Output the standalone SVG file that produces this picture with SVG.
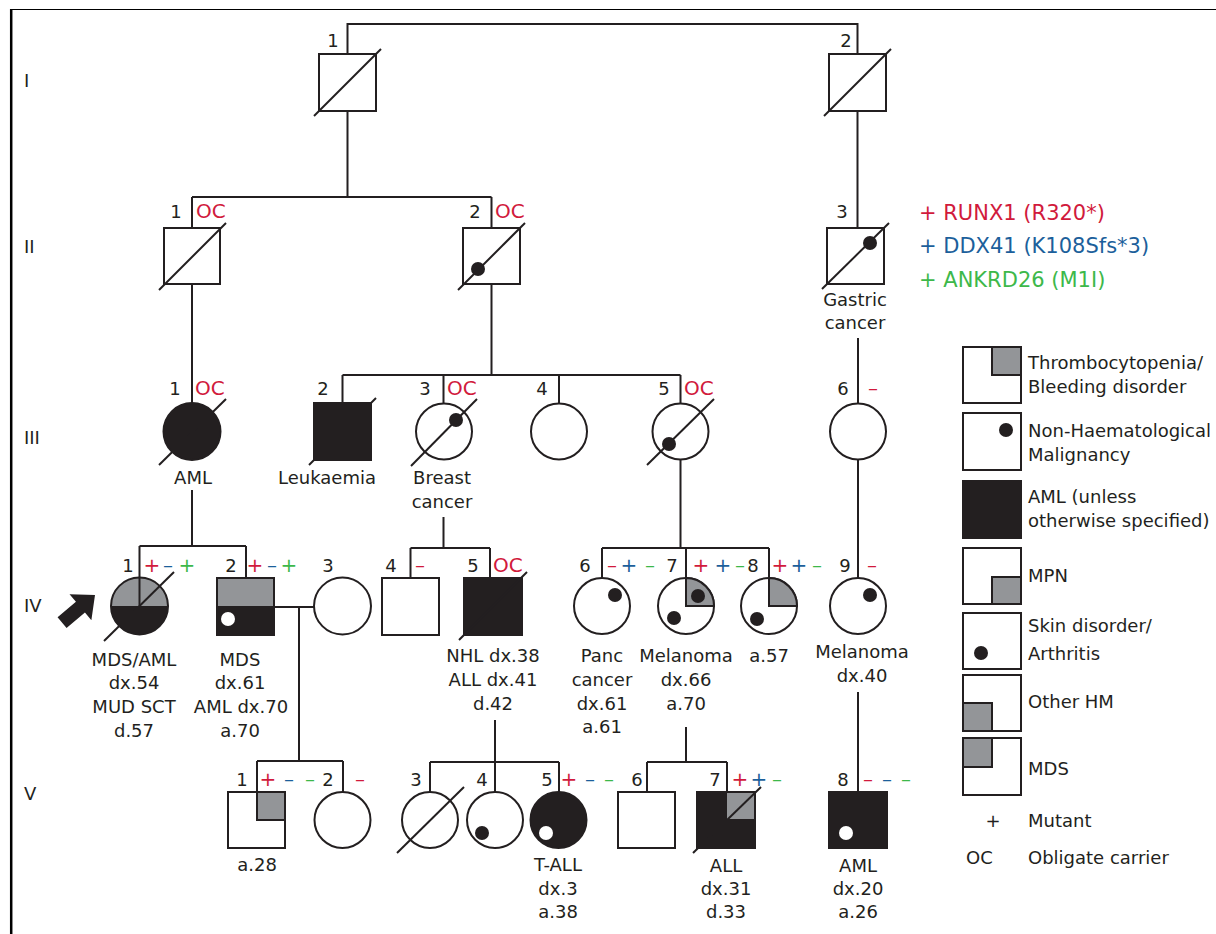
<svg xmlns="http://www.w3.org/2000/svg" width="1216" height="934" viewBox="0 0 1216 934">
<style>
text{font-family:"DejaVu Sans","Liberation Sans",sans-serif;font-size:18px;fill:#231f20}
.m{text-anchor:middle}
.red{fill:#d11a3c}.blu{fill:#1c5f9b}.grn{fill:#3db84a}
.red,.blu,.grn{font-size:20px}
.big{font-size:21px}
.ln{stroke:#231f20;stroke-width:2;fill:none}
.s{stroke:#231f20;stroke-width:2;fill:#fff}
.f{fill:#231f20;stroke:#231f20;stroke-width:2}
.gr{fill:#939598;stroke:#231f20;stroke-width:2}
.gn{fill:#939598}
.bk{fill:#231f20}
.o{fill:none;stroke:#231f20;stroke-width:2}
.sl{stroke:#231f20;stroke-width:2}
.wd{fill:#fff}
</style>
<rect width="1216" height="934" fill="#fff"/>
<g id="frame">
<line x1="10" y1="9.5" x2="1216" y2="9.5" stroke="#000" stroke-width="1.2"/>
<line x1="11.2" y1="9" x2="11.2" y2="934" stroke="#000" stroke-width="2.5"/>
</g>
<g id="generations">
<text x="24" y="87">I</text>
<text x="24" y="253">II</text>
<text x="24" y="444">III</text>
<text x="24" y="612">IV</text>
<text x="24" y="800">V</text>
</g>
<g id="connectors" class="ln">
<path d="M347.5,54V24H857.5V54"/>
<path d="M347.5,111V197M192,197H491.5M192,197V228M491.5,197V228"/>
<path d="M857.5,111V228"/>
<path d="M192,284V403"/>
<path d="M491.5,284V375M342.5,375H680.5M342.5,375V403M443.5,375V403M559,375V403M680.5,375V403"/>
<path d="M858,338V403"/>
<path d="M192,490V546M139.5,546H246M139.5,546V606M246,546V606"/>
<path d="M274,607H314M299,607V761M257,761H343M257,761V792M343,761V792"/>
<path d="M443.5,517V548M410.5,548H490M410.5,548V578M490,548V578"/>
<path d="M680.5,460V548M602,548H769M602,548V578M686,548V606M769,548V606"/>
<path d="M858,460V578"/>
<path d="M495,720V762M430,762H559M430,762V792M495,762V792M559,762V792"/>
<path d="M686,727V762M647,762H727M647,762V792M727,762V792"/>
<path d="M858,692V792"/>
</g>
<g id="I-1">
<rect class="s" x="319" y="54" width="57" height="57"/>
<line class="sl" x1="314" y1="116" x2="381" y2="49"/>
<text class="m" x="333" y="47">1</text>
</g>
<g id="I-2">
<rect class="s" x="829" y="54" width="57" height="57"/>
<line class="sl" x1="824" y1="116" x2="891" y2="49"/>
<text class="m" x="846" y="47">2</text>
</g>
<g id="II-1">
<rect class="s" x="164" y="228" width="56" height="56"/>
<line class="sl" x1="159" y1="290" x2="226" y2="223"/>
<text class="m" x="176" y="218">1</text>
<text class="red" x="196" y="218">OC</text>
</g>
<g id="II-2">
<rect class="s" x="463" y="228" width="57" height="56"/>
<circle class="bk" cx="478" cy="269" r="7"/>
<line class="sl" x1="458" y1="290" x2="525" y2="223"/>
<text class="m" x="475" y="218">2</text>
<text class="red" x="495" y="218">OC</text>
</g>
<g id="II-3">
<rect class="s" x="827" y="228" width="57" height="56"/>
<circle class="bk" cx="870" cy="243" r="7"/>
<line class="sl" x1="822" y1="289" x2="889" y2="223"/>
<text class="m" x="842" y="218">3</text>
<text class="m" x="855" y="306">Gastric</text>
<text class="m" x="855" y="329">cancer</text>
</g>
<g id="mutations-key">
<text class="red big" x="919" y="220">+ RUNX1 (R320*)</text>
<text class="blu big" x="919" y="253">+ DDX41 (K108Sfs*3)</text>
<text class="grn big" x="919" y="287">+ ANKRD26 (M1I)</text>
</g>
<g id="III-1">
<circle class="f" cx="192" cy="431.5" r="28.5"/>
<line class="sl" x1="159" y1="465" x2="226" y2="399"/>
<text class="m" x="175" y="395">1</text>
<text class="red" x="195" y="395">OC</text>
<text class="m" x="193" y="484">AML</text>
</g>
<g id="III-2">
<rect class="f" x="314" y="403" width="57" height="57"/>
<line class="sl" x1="309" y1="465" x2="376" y2="398"/>
<text class="m" x="323" y="395">2</text>
<text class="m" x="327" y="484">Leukaemia</text>
</g>
<g id="III-3">
<circle class="s" cx="444" cy="431.5" r="28"/>
<circle class="bk" cx="456" cy="420" r="7"/>
<line class="sl" x1="411" y1="466" x2="477" y2="399"/>
<text class="m" x="425" y="395">3</text>
<text class="red" x="447" y="395">OC</text>
<text class="m" x="442" y="484">Breast</text>
<text class="m" x="442" y="508">cancer</text>
</g>
<g id="III-4">
<circle class="s" cx="559" cy="431.5" r="28"/>
<text class="m" x="542" y="395">4</text>
</g>
<g id="III-5">
<circle class="s" cx="680.5" cy="431.5" r="28"/>
<circle class="bk" cx="669" cy="444" r="7"/>
<line class="sl" x1="647" y1="465" x2="714" y2="399"/>
<text class="m" x="664" y="395">5</text>
<text class="red" x="684" y="395">OC</text>
</g>
<g id="III-6">
<circle class="s" cx="858" cy="431.5" r="28"/>
<text class="m" x="843" y="395">6</text>
<text class="m red" x="873" y="395">–</text>
</g>
<g id="IV-1">
<path class="gn" d="M111,606A28.5,28.5 0 0 1 168,606Z"/>
<path class="bk" d="M111,606A28.5,28.5 0 0 0 168,606Z"/>
<circle class="o" cx="139.5" cy="606" r="28.5"/>
<line class="sl" x1="139.5" y1="578" x2="139.5" y2="606"/>
<line class="sl" x1="104" y1="641" x2="174" y2="572"/>
<polygon class="bk" points="0,0 -19,-17 -19,-7 -43,-7 -43,7 -19,7 -19,17" transform="translate(95,595) rotate(-40)"/>
<text class="m" x="128" y="572">1</text>
<text class="m red" x="152" y="572">+</text>
<text class="m blu" x="168" y="572">–</text>
<text class="m grn" x="187" y="572">+</text>
<text class="m" x="134" y="666">MDS/AML</text>
<text class="m" x="134" y="689">dx.54</text>
<text class="m" x="134" y="713">MUD SCT</text>
<text class="m" x="134" y="737">d.57</text>
</g>
<g id="IV-2">
<rect class="gn" x="217" y="578" width="57" height="28"/>
<rect class="bk" x="217" y="606" width="57" height="29"/>
<rect class="o" x="217" y="578" width="57" height="57"/>
<circle class="wd" cx="228" cy="619" r="7"/>
<text class="m" x="231" y="572">2</text>
<text class="m red" x="255" y="572">+</text>
<text class="m blu" x="272" y="572">–</text>
<text class="m grn" x="289" y="572">+</text>
<text class="m" x="240" y="666">MDS</text>
<text class="m" x="240" y="689">dx.61</text>
<text class="m" x="241" y="713">AML dx.70</text>
<text class="m" x="240" y="737">a.70</text>
</g>
<g id="IV-3">
<circle class="s" cx="342.5" cy="606" r="28.5"/>
<text class="m" x="328" y="572">3</text>
</g>
<g id="IV-4">
<rect class="s" x="382" y="578" width="57" height="57"/>
<text class="m" x="391" y="572">4</text>
<text class="m red" x="420" y="572">–</text>
</g>
<g id="IV-5">
<rect class="f" x="464" y="578" width="58" height="57"/>
<line class="sl" x1="459" y1="640" x2="527" y2="572"/>
<text class="m" x="473" y="572">5</text>
<text class="red" x="493" y="572">OC</text>
<text class="m" x="493" y="662">NHL dx.38</text>
<text class="m" x="493" y="686">ALL dx.41</text>
<text class="m" x="493" y="710">d.42</text>
</g>
<g id="IV-6">
<circle class="s" cx="602" cy="606" r="28"/>
<circle class="bk" cx="615" cy="595" r="7"/>
<text class="m" x="585" y="572">6</text>
<text class="m red" x="612" y="572">–</text>
<text class="m blu" x="629" y="572">+</text>
<text class="m grn" x="650" y="572">–</text>
<text class="m" x="602" y="662">Panc</text>
<text class="m" x="602" y="686">cancer</text>
<text class="m" x="602" y="710">dx.61</text>
<text class="m" x="602" y="733">a.61</text>
</g>
<g id="IV-7">
<circle class="s" cx="686" cy="606" r="28"/>
<path class="gr" d="M686,606H714A28,28 0 0 0 686,578Z"/>
<circle class="bk" cx="698" cy="596" r="7"/>
<circle class="bk" cx="674" cy="618" r="7"/>
<text class="m" x="672" y="572">7</text>
<text class="m red" x="701" y="572">+</text>
<text class="m blu" x="723" y="572">+</text>
<text class="m grn" x="740" y="572">–</text>
<text class="m" x="686" y="662">Melanoma</text>
<text class="m" x="686" y="686">dx.66</text>
<text class="m" x="686" y="710">a.70</text>
</g>
<g id="IV-8">
<circle class="s" cx="769" cy="606" r="28"/>
<path class="gr" d="M769,606H797A28,28 0 0 0 769,578Z"/>
<circle class="bk" cx="757" cy="619" r="7"/>
<text class="m" x="753" y="572">8</text>
<text class="m red" x="780" y="572">+</text>
<text class="m blu" x="799" y="572">+</text>
<text class="m grn" x="817" y="572">–</text>
<text class="m" x="769" y="662">a.57</text>
</g>
<g id="IV-9">
<circle class="s" cx="858" cy="606" r="28"/>
<circle class="bk" cx="870" cy="595" r="7"/>
<text class="m" x="845" y="572">9</text>
<text class="m red" x="872" y="572">–</text>
<text class="m" x="862" y="658">Melanoma</text>
<text class="m" x="862" y="682">dx.40</text>
</g>
<g id="V-1">
<rect class="s" x="228" y="792" width="57" height="56"/>
<rect class="gr" x="257" y="792" width="28" height="28" stroke-width="2.5"/>
<text class="m" x="242" y="786">1</text>
<text class="m red" x="268" y="786">+</text>
<text class="m blu" x="289" y="786">–</text>
<text class="m grn" x="310" y="786">–</text>
<text class="m" x="257" y="871">a.28</text>
</g>
<g id="V-2">
<circle class="s" cx="342.5" cy="820" r="28"/>
<text class="m" x="328" y="786">2</text>
<text class="m red" x="360" y="786">–</text>
</g>
<g id="V-3">
<circle class="s" cx="430" cy="820" r="28"/>
<line class="sl" x1="397" y1="853" x2="464" y2="787"/>
<text class="m" x="416" y="786">3</text>
</g>
<g id="V-4">
<circle class="s" cx="495" cy="820" r="28"/>
<circle class="bk" cx="482" cy="833" r="7"/>
<text class="m" x="482" y="786">4</text>
</g>
<g id="V-5">
<circle class="f" cx="558.5" cy="820" r="28"/>
<circle class="wd" cx="546" cy="833" r="7"/>
<text class="m" x="547" y="786">5</text>
<text class="m red" x="569" y="786">+</text>
<text class="m blu" x="590" y="786">–</text>
<text class="m grn" x="609" y="786">–</text>
<text class="m" x="558" y="871">T-ALL</text>
<text class="m" x="558" y="895">dx.3</text>
<text class="m" x="558" y="918">a.38</text>
</g>
<g id="V-6">
<rect class="s" x="618" y="792" width="57" height="56"/>
<text class="m" x="637" y="786">6</text>
</g>
<g id="V-7">
<rect class="f" x="697" y="792" width="58" height="56"/>
<rect class="gn" x="727" y="793" width="27" height="26"/>
<line class="sl" x1="693" y1="853" x2="761" y2="787"/>
<text class="m" x="715" y="786">7</text>
<text class="m red" x="740" y="786">+</text>
<text class="m blu" x="759" y="786">+</text>
<text class="m grn" x="777" y="786">–</text>
<text class="m" x="726" y="872">ALL</text>
<text class="m" x="726" y="895">dx.31</text>
<text class="m" x="726" y="918">d.33</text>
</g>
<g id="V-8">
<rect class="f" x="829" y="792" width="58" height="56"/>
<circle class="wd" cx="846" cy="833" r="7"/>
<text class="m" x="843" y="786">8</text>
<text class="m red" x="868" y="786">–</text>
<text class="m blu" x="887" y="786">–</text>
<text class="m grn" x="906" y="786">–</text>
<text class="m" x="858" y="872">AML</text>
<text class="m" x="858" y="895">dx.20</text>
<text class="m" x="858" y="918">a.26</text>
</g>
<g id="legend">
<rect class="s" x="963" y="347" width="58" height="56"/>
<rect class="gr" x="992" y="347" width="29" height="28"/>
<text x="1028" y="369">Thrombocytopenia/</text>
<text x="1028" y="393">Bleeding disorder</text>
<rect class="s" x="963" y="413" width="58" height="57"/>
<circle class="bk" cx="1006" cy="430" r="7"/>
<text x="1028" y="437">Non-Haematological</text>
<text x="1028" y="461">Malignancy</text>
<rect class="f" x="963" y="481" width="58" height="57"/>
<text x="1028" y="503">AML (unless</text>
<text x="1028" y="527">otherwise specified)</text>
<rect class="s" x="963" y="548" width="58" height="56"/>
<rect class="gr" x="992" y="577" width="29" height="27"/>
<text x="1028" y="582">MPN</text>
<rect class="s" x="963" y="613" width="58" height="56"/>
<circle class="bk" cx="981" cy="653" r="7"/>
<text x="1028" y="632">Skin disorder/</text>
<text x="1028" y="660">Arthritis</text>
<rect class="s" x="963" y="675" width="58" height="56"/>
<rect class="gr" x="963" y="703" width="29" height="28"/>
<text x="1028" y="708">Other HM</text>
<rect class="s" x="963" y="738" width="58" height="57"/>
<rect class="gr" x="963" y="738" width="29" height="29"/>
<text x="1028" y="775">MDS</text>
<text class="m" x="993" y="827">+</text>
<text x="1028" y="827">Mutant</text>
<text x="966" y="864">OC</text>
<text x="1028" y="864">Obligate carrier</text>
</g>
</svg>
